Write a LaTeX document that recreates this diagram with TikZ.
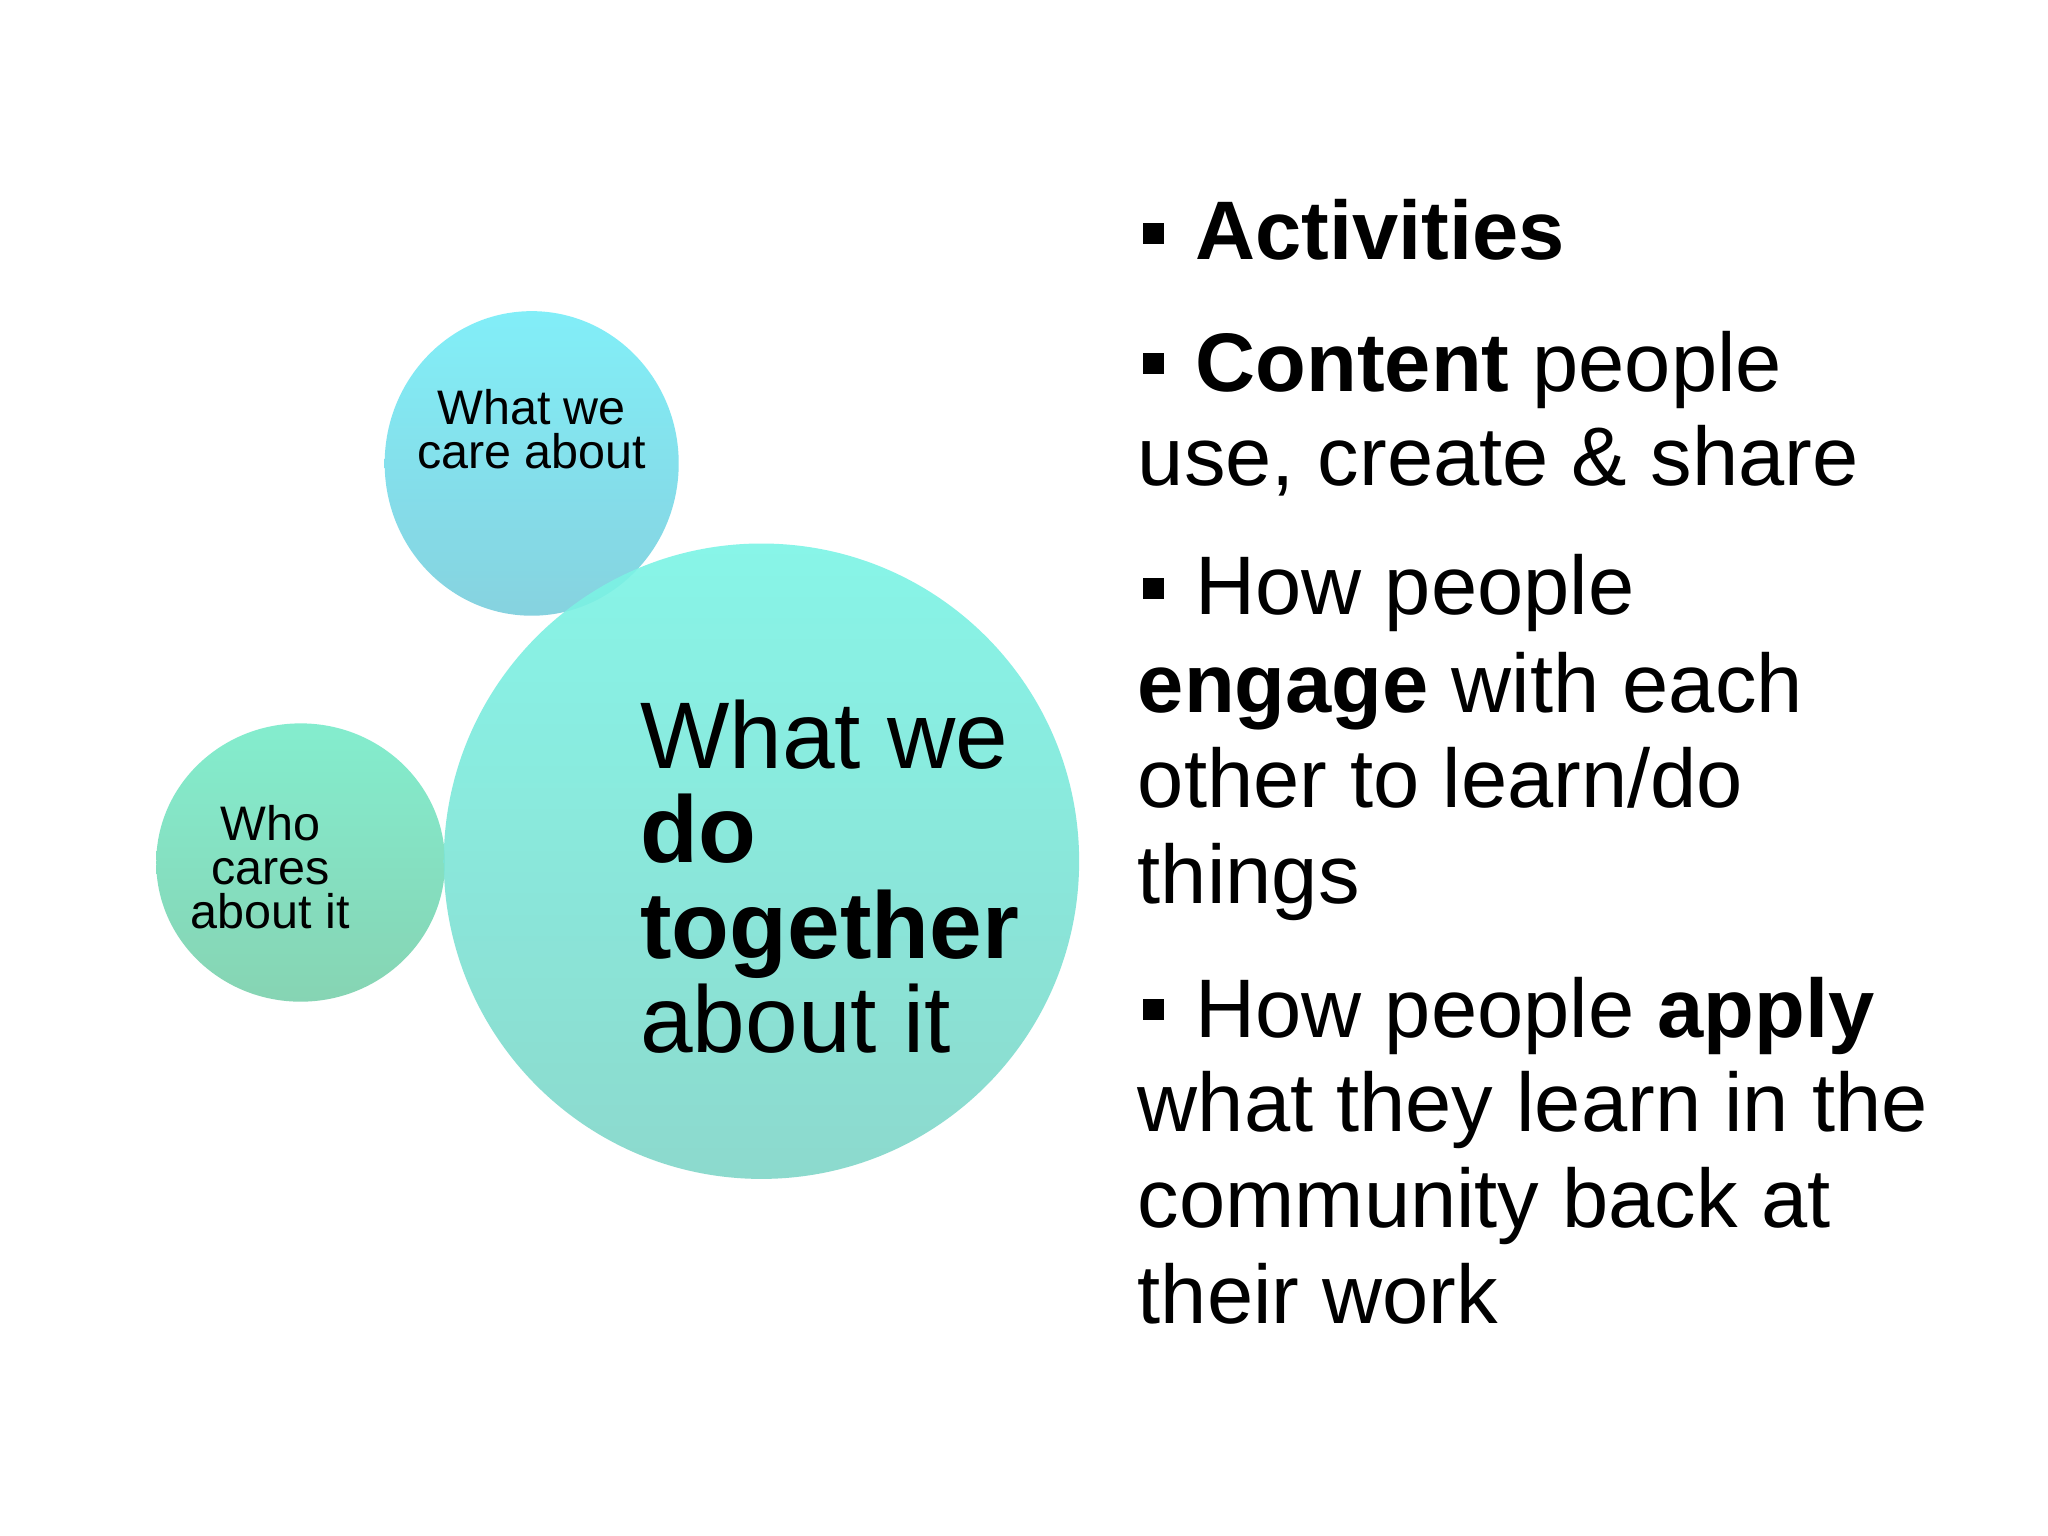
\documentclass[tikz,border=0pt]{standalone}
\usepackage{fontspec}
\setmainfont{Liberation Sans}
\begin{document}
\begin{tikzpicture}[x=0.01cm,y=-0.01cm,
  bt/.style={anchor=base west,inner sep=0pt,font=\fontsize{18}{20}\selectfont},
  big/.style={anchor=base west,inner sep=0pt,font=\fontsize{20.5}{22}\selectfont},
  sm/.style={anchor=base,inner sep=0pt,font=\fontsize{10.5}{11}\selectfont},
  bul/.style={fill=black,minimum size=0.16cm,inner sep=0pt}]
\useasboundingbox (0,0) rectangle (1560,1170);
\fill[white] (0,0) rectangle (1560,1170);
% circles
\shade[top color={rgb,255:red,124;green,238;blue,248},bottom color={rgb,255:red,128;green,208;blue,222},opacity=0.95]
  (405,353) ellipse [x radius=112,y radius=116];
\shade[top color={rgb,255:red,126;green,236;blue,204},bottom color={rgb,255:red,128;green,210;blue,176},opacity=0.95]
  (229,657) ellipse [x radius=110,y radius=106];
\shade[top color={rgb,255:red,124;green,244;blue,230},bottom color={rgb,255:red,128;green,214;blue,200},opacity=0.9]
  (580,656) circle [radius=242];
% circle texts
\node[sm] (t1) at (405,323) {What we};
\node[sm] (t2) at (405,357) {care about};
\node[sm] (l1) at (206,640) {Who};
\node[sm] (l2) at (206,674) {cares};
\node[sm] (l3) at (206,707) {about it};
\node[big] (b1) at (487,585) {What we};
\node[big] (b2) at (487,657) {\textbf{do}};
\node[big] (b3) at (487,730) {\textbf{together}};
\node[big] (b4) at (487,802) {about it};
% bullets
\node[bul] (s1) at (879,178) {};
\node[bul] (s2) at (879,277) {};
\node[bul] (s3) at (879,448) {};
\node[bul] (s4) at (879,769) {};
\node[bt] (r1) at (910,198) {\textbf{Activities}};
\node[bt] (r2) at (910,298) {\textbf{Content} people};
\node[bt] (r3) at (866,370) {use, create \& share};
\node[bt] (r4) at (910,468) {How people};
\node[bt] (r5) at (866,543) {\textbf{engage} with each};
\node[bt] (r6) at (866,615) {other to learn/do};
\node[bt] (r7) at (866,688) {things};
\node[bt] (r8) at (910,790) {How people \textbf{apply}};
\node[bt] (r9) at (866,862) {what they learn in the};
\node[bt] (r10) at (866,935) {community back at};
\node[bt] (r11) at (866,1008) {their work};
\end{tikzpicture}
\end{document}
